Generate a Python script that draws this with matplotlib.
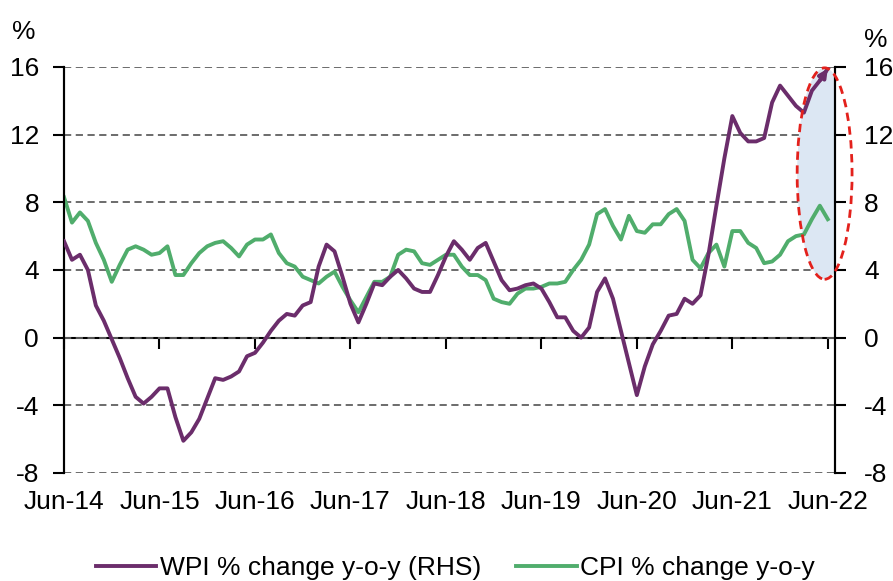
import numpy as np
import matplotlib
matplotlib.use('Agg')
import matplotlib.pyplot as plt
from matplotlib.patches import Ellipse

plt.rcParams['font.family'] = ['Liberation Sans', 'DejaVu Sans']
plt.rcParams['axes.unicode_minus'] = False

# monthly, Jun-14 .. Jun-22
tick_labels = ['Jun-14', 'Jun-15', 'Jun-16', 'Jun-17', 'Jun-18',
               'Jun-19', 'Jun-20', 'Jun-21', 'Jun-22']

wpi = [5.7, 4.6, 4.9, 4.0, 1.9, 1.0, -0.1, -1.2, -2.4, -3.5, -3.9, -3.5,
       -3.0, -3.0, -4.7, -6.1, -5.6, -4.8, -3.6, -2.4, -2.5, -2.3, -2.0, -1.1,
       -0.9, -0.3, 0.4, 1.0, 1.4, 1.3, 1.9, 2.1, 4.2, 5.5, 5.1, 3.6,
       2.0, 0.9, 2.0, 3.2, 3.1, 3.6, 4.0, 3.5, 2.9, 2.7, 2.7, 3.7,
       4.8, 5.7, 5.2, 4.6, 5.3, 5.6, 4.5, 3.4, 2.8, 2.9, 3.1, 3.2,
       2.9, 2.1, 1.2, 1.2, 0.4, 0.0, 0.6, 2.7, 3.5, 2.3, 0.4, -1.5,
       -3.4, -1.7, -0.4, 0.4, 1.3, 1.4, 2.3, 2.0, 2.5, 4.9, 7.8, 10.6,
       13.1, 12.1, 11.6, 11.6, 11.8, 13.9, 14.9, 14.3, 13.7, 13.3, 14.6, 15.2,
       15.9]

cpi = [8.3, 6.8, 7.4, 6.9, 5.6, 4.6, 3.3, 4.3, 5.2, 5.4, 5.2, 4.9,
       5.0, 5.4, 3.7, 3.7, 4.4, 5.0, 5.4, 5.6, 5.7, 5.3, 4.8, 5.5,
       5.8, 5.8, 6.1, 5.0, 4.4, 4.2, 3.6, 3.4, 3.2, 3.6, 3.9, 3.0,
       2.2, 1.5, 2.4, 3.3, 3.3, 3.6, 4.9, 5.2, 5.1, 4.4, 4.3, 4.6,
       4.9, 4.9, 4.2, 3.7, 3.7, 3.4, 2.3, 2.1, 2.0, 2.6, 2.9, 2.9,
       3.0, 3.2, 3.2, 3.3, 4.0, 4.6, 5.5, 7.3, 7.6, 6.6, 5.8, 7.2,
       6.3, 6.2, 6.7, 6.7, 7.3, 7.6, 6.9, 4.6, 4.1, 5.0, 5.5, 4.2,
       6.3, 6.3, 5.6, 5.3, 4.4, 4.5, 4.9, 5.7, 6.0, 6.1, 7.0, 7.8,
       7.0]

months = np.arange(len(wpi))
yticks = [-8, -4, 0, 4, 8, 12, 16]

purple = '#6b2d6b'
green = '#50ad6c'
fs = 19
lw = 2.8

fig = plt.figure(figsize=(8.93, 5.81), dpi=100)
ax = fig.add_axes([0.0717, 0.186, 0.8633, 0.6987])
ax2 = ax.twinx()

for a in (ax, ax2):
    a.set_xlim(0, 96.9)
    a.set_ylim(-8, 16)
    a.set_yticks(yticks)
    a.spines['top'].set_visible(False)
    a.spines['bottom'].set_visible(False)
    a.spines['left'].set_linewidth(1.5)
    a.spines['right'].set_linewidth(1.5)

ax.grid(axis='y', linestyle=(0, (4, 2.5)), color='#606060', linewidth=1.3)
ax.set_axisbelow(True)
ax.tick_params(axis='y', direction='out', length=8, width=1.5, labelsize=fs, pad=10)
ax2.tick_params(axis='y', direction='out', length=8, width=1.5, labelsize=fs, pad=13)
ax.set_xticks(months[::12])
ax.set_xticklabels(tick_labels)
ax.tick_params(axis='x', length=0, labelsize=fs, pad=12)

# zero line carries the x ticks
sec = ax.secondary_xaxis(1 / 3)
sec.set_xticks(months[::12])
sec.tick_params(axis='x', direction='out', length=8, width=1.5, labelbottom=False)
sec.spines['bottom'].set_linewidth(1.5)

# highlight ellipse
ell_fill = Ellipse((95.6, 9.7), 6.9, 12.5, facecolor='#dce7f3', edgecolor='none', zorder=1)
ax.add_patch(ell_fill)

ax.plot(months, cpi, color=green, lw=lw, zorder=3, label='CPI % change y-o-y')
ax2.plot(months, wpi, color=purple, lw=lw, zorder=3, label='WPI % change y-o-y (RHS)')
ax2.annotate('', xy=(months[-1], wpi[-1]), xytext=(months[-2], wpi[-2]),
             arrowprops=dict(arrowstyle='-|>', color=purple, lw=lw, mutation_scale=12,
                             shrinkA=0, shrinkB=0))

ell_edge = Ellipse((95.6, 9.7), 6.9, 12.5, facecolor='none', edgecolor='#e3211c',
                   linestyle=(0, (3, 2)), linewidth=2, zorder=5, clip_on=False)
ax2.add_patch(ell_edge)

fig.text(0.013, 0.945, '%', fontsize=fs, ha='left', va='center')
fig.text(0.967, 0.932, '%', fontsize=fs, ha='left', va='center')

h1, lab1 = ax2.get_legend_handles_labels()
h2, lab2 = ax.get_legend_handles_labels()
fig.legend(h1 + h2, lab1 + lab2, loc='center', bbox_to_anchor=(0.51, 0.022), ncol=2,
           frameon=False, fontsize=fs, handlelength=2.3, handletextpad=0.15,
           columnspacing=1.3)

fig.savefig('out.png', dpi=100)
